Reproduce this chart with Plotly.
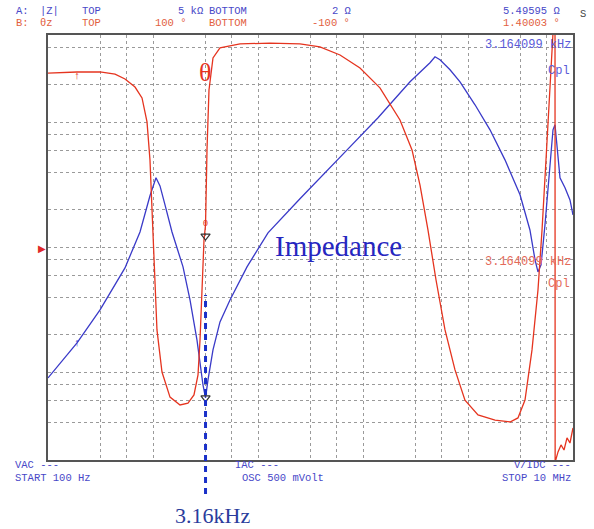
import math
import plotly.graph_objects as go

# ---------------- data ----------------
f_start, f_stop = 100, 10e6          # Hz
z_bottom, z_top = 2, 5000            # ohm (log)
th_bottom, th_top = -100, 100        # degree

# |Z| trace (blue)
z_freq = [100, 189, 313, 541, 752, 936, 1068, 1166, 1301, 1517, 1931, 2251, 2624, 2993, 3164,
          3340, 3727, 4345, 5410, 7856, 12450, 25100, 75200, 139000, 280500, 434500, 485000,
          541000, 674000, 839000, 1166000, 1620000, 2250000, 3130000, 3890000, 4350000, 4640000,
          4960000, 5410000, 6040000, 6450000, 6740000, 7050000, 7520000, 8390000, 9360000, 10000000]
z_mag = [9.06, 17.3, 31.7, 68.7, 133, 259, 361, 311, 219, 133, 70, 38.1, 18.2, 7.96, 6.27,
         8.73, 15.2, 25.4, 38.1, 70, 131, 245, 638, 1089, 2113, 3000, 3350,
         3170, 2636, 2113, 1384, 873, 502, 264, 138, 79.6, 63.8,
         72.6, 152, 458, 873, 957, 662, 361, 300, 240, 182]

# theta trace (red); the jump near 6.75 MHz is the wrap from +100 to -100 deg
th_freq = [100, 189, 313, 435, 541, 674, 786, 877, 936, 978, 1023, 1091, 1218, 1452, 1808, 2154,
           2456, 2683, 2804, 2930, 3060, 3164, 3268, 3414, 3727, 4345, 6740, 13000, 25100, 38900,
           60400, 93600, 145000, 225000, 293000, 349000, 416000, 496000, 604000, 752000, 936000,
           1245000, 1810000, 2510000, 2990000, 3490000, 4070000, 4640000, 5070000, 5530000,
           5910000, 6170000, 6450000, 6740000, 6760000, 7200000, 7690000, 8210000, 8770000,
           9360000, 10000000]
th_deg = [82.1, 82.6, 82.6, 81.6, 79.3, 75.5, 70.4, 59.1, 41.2, 17.6, -10.6, -38.8, -58.6, -70.4,
          -74.1, -73.2, -69.4, -60, -43.5, -20, 3.5, 10.6, 45.9, 74.1, 89.2, 93.9, 95.8, 96.2,
          95.8, 94.4, 90.6, 84.5, 75.1, 60, 45.9, 29.4, 8.2, -15.3, -38.8, -57.6, -71.8, -78.8,
          -81.2, -82.1, -80.2, -71.8, -48.2, -20, 8.2, 41.2, 69.4, 88.2, 101, 102, -101,
          -96.2, -92.9, -95.3, -89.6, -92, -84.9]

# marker at 3.164099 kHz
marker_freq = 3164.099
marker_z = 6.27
marker_th = [5.4]
marker_th_zero = [11.1]
arrow_freq = 189
arrow_z = 17.3
arrow_th = 80.5

# grid
x_grid = [10 ** (d + s) for d in range(2, 7) for s in (0.5, 0.75, 1.0)]
y_grid = [4, 6, 8, 10, 20, 40, 60, 80, 100, 200, 400, 600, 800, 1000, 2000, 4000]

# ---------------- styling ----------------
BLUE = "#3a3ac8"
RED = "#e5341f"
HB = "#4848c8"
HR = "#e2603e"
MONO = "Liberation Mono, DejaVu Sans Mono, monospace"
SERIF = "Liberation Serif, Times New Roman, serif"
FS = 10.5

W, H = 594, 529
L, R, T, B = 48, 21, 35, 69
PW, PH = W - L - R, H - T - B


def P(px, py):
    return (px - L) / PW, (T + PH - py) / PH


fig = go.Figure()
fig.add_trace(go.Scatter(x=z_freq, y=z_mag, mode="lines", line=dict(color=BLUE, width=1.3),
                         yaxis="y", showlegend=False))
fig.add_trace(go.Scatter(x=th_freq, y=th_deg, mode="lines", line=dict(color=RED, width=1.3),
                         yaxis="y2", showlegend=False))
# markers
fig.add_trace(go.Scatter(x=[marker_freq], y=[marker_z], mode="markers", yaxis="y",
                         marker=dict(symbol="triangle-down-open", size=8, color="#333",
                                     line=dict(width=1.2)), showlegend=False))
fig.add_trace(go.Scatter(x=[marker_freq], y=marker_th, mode="markers", yaxis="y2",
                         marker=dict(symbol="triangle-down-open", size=8, color="#333",
                                     line=dict(width=1.2)), showlegend=False))
fig.add_trace(go.Scatter(x=[marker_freq], y=marker_th_zero, mode="text", yaxis="y2", text=["0"],
                         textfont=dict(color=RED, size=9, family=MONO), showlegend=False))
fig.add_trace(go.Scatter(x=[arrow_freq], y=[arrow_z], mode="text", yaxis="y", text=["↑"],
                         textfont=dict(color=BLUE, size=11), showlegend=False))
fig.add_trace(go.Scatter(x=[arrow_freq], y=[arrow_th], mode="text", yaxis="y2", text=["↑"],
                         textfont=dict(color=RED, size=11), showlegend=False))

lx0 = math.log10(f_start)
lx1 = math.log10(f_stop)
mx = (math.log10(marker_freq) - lx0) / (lx1 - lx0)

fig.add_shape(type="line", xref="paper", yref="paper", x0=mx, x1=mx, y0=P(0, 494)[1],
              y1=P(0, 295)[1], line=dict(color="#1a30c8", width=3, dash="6px,5px"))

ann = []


def txt(s, px, py, color, size, family=MONO, xanchor="left"):
    x, y = P(px, py)
    ann.append(dict(text=s, x=x, y=y, xref="paper", yref="paper", xanchor=xanchor,
                    yanchor="middle", showarrow=False, borderpad=0,
                    font=dict(color=color, size=size, family=family)))


# header
txt("A:", 15, 11, HB, FS)
txt("|Z|", 39, 11, HB, FS)
txt("TOP", 81, 11, HB, FS)
txt("5 kΩ", 204, 11, HB, FS, xanchor="right")
txt("BOTTOM", 208, 11, HB, FS)
txt("2 Ω", 331, 11, HB, FS)
txt("5.49595 Ω", 561, 11, HB, FS, xanchor="right")
txt("S", 579, 14, "#444", FS)
txt("B:", 15, 23, HR, FS)
txt("θz", 39, 23, HR, FS)
txt("TOP", 81, 23, HR, FS)
txt("100 °", 188, 23, HR, FS, xanchor="right")
txt("BOTTOM", 208, 23, HR, FS)
txt("-100 °", 351, 23, HR, FS, xanchor="right")
txt("1.40003 °", 561, 23, HR, FS, xanchor="right")
# footer
txt("VAC ---", 14, 465, HB, FS)
txt("START 100 Hz", 14, 478, HB, FS)
txt("IAC ---", 234, 465, HB, FS)
txt("OSC 500 mVolt", 241, 478, HB, FS)
txt("V/IDC ---", 572, 465, HB, FS, xanchor="right")
txt("STOP 10 MHz", 572, 478, HB, FS, xanchor="right")
# in-plot
txt("3.164099 kHz", 572, 45, "#5a5ad8", 12, xanchor="right")
txt("Cpl", 571, 71, "#5a5ad8", 12, xanchor="right")
txt("3.164099 kHz", 572, 262, "#e46a5a", 12, xanchor="right")
txt("Cpl", 571, 284, "#e46a5a", 12, xanchor="right")
txt("θ", 205, 72, RED, 26, SERIF, xanchor="center")
txt("Impedance", 338, 246, "#2626c0", 29, SERIF, xanchor="center")
txt("3.16kHz", 212, 515, "#2a3c9c", 22, SERIF, xanchor="center")
txt("▶", 42, 248, "#e02a2a", 10, "DejaVu Sans", xanchor="center")

fig.update_layout(
    width=W, height=H, margin=dict(l=L, r=R, t=T, b=B),
    paper_bgcolor="white", plot_bgcolor="white", annotations=ann,
    xaxis=dict(type="log", range=[lx0, lx1], tickvals=x_grid, showticklabels=False,
               showgrid=True, gridcolor="#9a9a9a", griddash="dot", gridwidth=1,
               showline=True, mirror=True, linecolor="#555", linewidth=1.5, ticks="",
               zeroline=False),
    yaxis=dict(type="log", range=[math.log10(z_bottom), math.log10(z_top)], tickvals=y_grid,
               showticklabels=False, showgrid=True, gridcolor="#9a9a9a", griddash="dot",
               gridwidth=1, showline=True, mirror=True, linecolor="#555", linewidth=1.5,
               ticks="", zeroline=False),
    yaxis2=dict(overlaying="y", range=[th_bottom, th_top], showticklabels=False,
                showgrid=False, zeroline=False, ticks="", showline=False),
)

fig.write_html("out.html")
